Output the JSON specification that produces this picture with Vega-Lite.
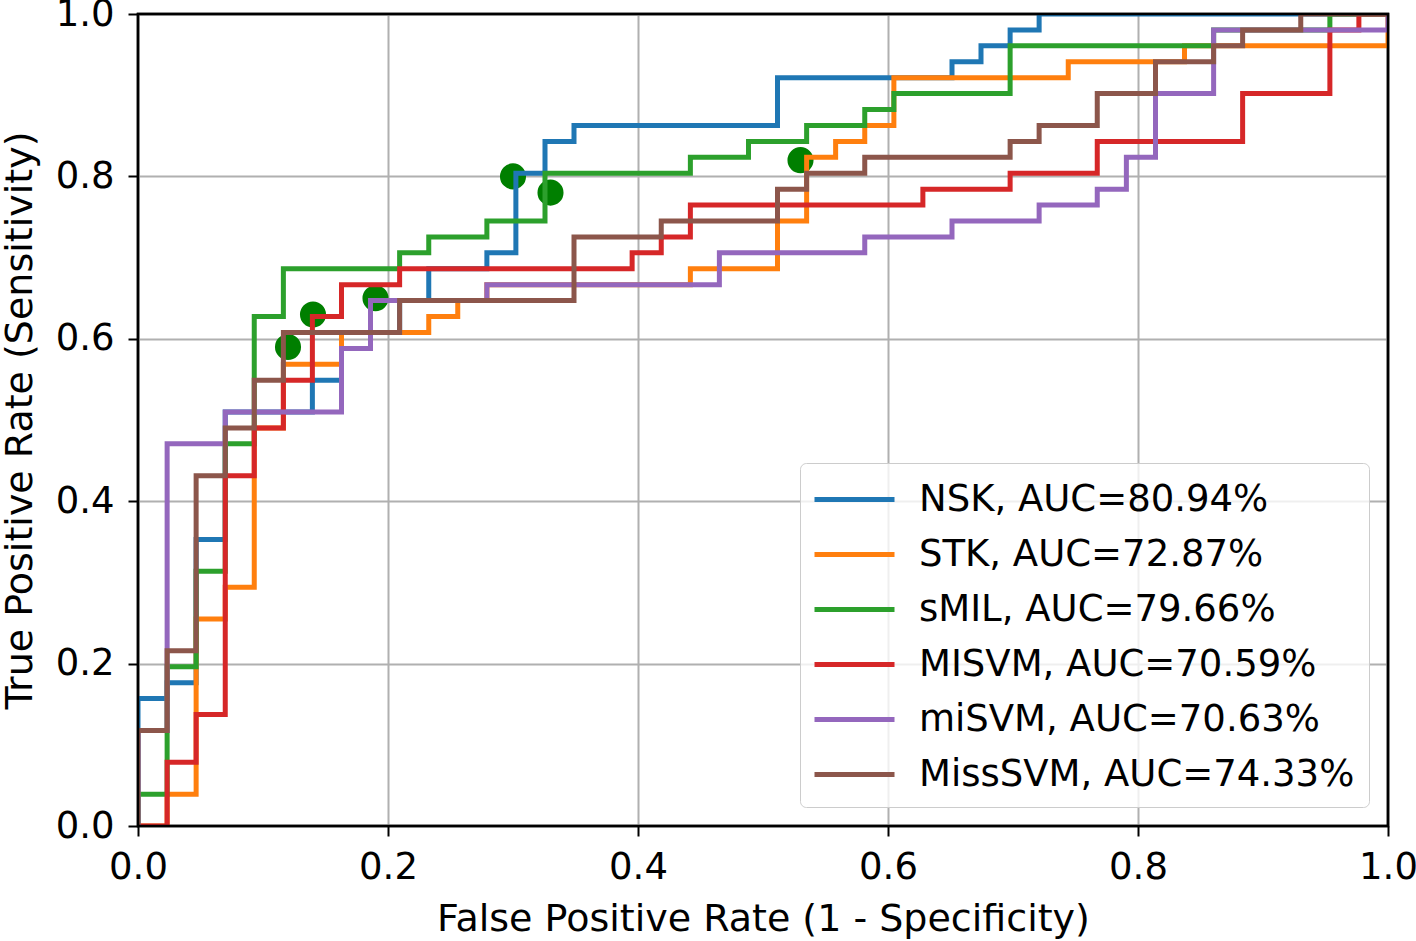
{
  "$schema": "https://vega.github.io/schema/vega-lite/v6.json",
  "width": 1250,
  "height": 812,
  "autosize": {"type": "none"},
  "padding": {"left": 138, "top": 14, "right": 28, "bottom": 115},
  "background": "white",
  "config": {
    "font": "DejaVu Sans",
    "view": {"stroke": "black", "strokeWidth": 2.5},
    "axis": {
      "labelFontSize": 37, "titleFontSize": 38, "labelColor": "black", "titleColor": "black",
      "titleFontWeight": "normal", "tickColor": "black", "tickWidth": 2, "tickSize": 10,
      "gridColor": "#b0b0b0", "gridWidth": 2, "gridOpacity": 1, "domain": false,
      "labelFlush": false, "labelOverlap": false, "labelFont": "DejaVu Sans", "titleFont": "DejaVu Sans"
    },
    "axisX": {"labelPadding": 13, "titlePadding": 15},
    "axisY": {"labelPadding": 14, "titlePadding": 16},
    "legend": {
      "orient": "bottom-right", "offset": 19, "labelFontSize": 37, "labelColor": "black",
      "labelFont": "DejaVu Sans", "symbolType": "M-1.1,0L2.9,0", "symbolSize": 1600,
      "symbolStrokeWidth": 5, "rowPadding": 14, "padding": 14, "strokeColor": "#cccccc",
      "cornerRadius": 6, "fillColor": "rgba(255,255,255,0.8)", "labelOffset": 60, "labelLimit": 1000
    }
  },
  "datasets": {
    "roc": [
      {"model": "NSK, AUC=80.94%", "step": 0, "fpr": 0, "tpr": 0},
      {"model": "NSK, AUC=80.94%", "step": 1, "fpr": 0, "tpr": 0.1569},
      {"model": "NSK, AUC=80.94%", "step": 2, "fpr": 0.0233, "tpr": 0.1765},
      {"model": "NSK, AUC=80.94%", "step": 3, "fpr": 0.0465, "tpr": 0.3529},
      {"model": "NSK, AUC=80.94%", "step": 4, "fpr": 0.0698, "tpr": 0.5098},
      {"model": "NSK, AUC=80.94%", "step": 5, "fpr": 0.1395, "tpr": 0.549},
      {"model": "NSK, AUC=80.94%", "step": 6, "fpr": 0.1628, "tpr": 0.6078},
      {"model": "NSK, AUC=80.94%", "step": 7, "fpr": 0.2093, "tpr": 0.6471},
      {"model": "NSK, AUC=80.94%", "step": 8, "fpr": 0.2326, "tpr": 0.6863},
      {"model": "NSK, AUC=80.94%", "step": 9, "fpr": 0.2791, "tpr": 0.7059},
      {"model": "NSK, AUC=80.94%", "step": 10, "fpr": 0.3023, "tpr": 0.8039},
      {"model": "NSK, AUC=80.94%", "step": 11, "fpr": 0.3256, "tpr": 0.8431},
      {"model": "NSK, AUC=80.94%", "step": 12, "fpr": 0.3488, "tpr": 0.8627},
      {"model": "NSK, AUC=80.94%", "step": 13, "fpr": 0.5116, "tpr": 0.9216},
      {"model": "NSK, AUC=80.94%", "step": 14, "fpr": 0.6512, "tpr": 0.9412},
      {"model": "NSK, AUC=80.94%", "step": 15, "fpr": 0.6744, "tpr": 0.9608},
      {"model": "NSK, AUC=80.94%", "step": 16, "fpr": 0.6977, "tpr": 0.9804},
      {"model": "NSK, AUC=80.94%", "step": 17, "fpr": 0.7209, "tpr": 1},
      {"model": "NSK, AUC=80.94%", "step": 18, "fpr": 1, "tpr": 1},

      {"model": "STK, AUC=72.87%", "step": 0, "fpr": 0, "tpr": 0},
      {"model": "STK, AUC=72.87%", "step": 1, "fpr": 0.0233, "tpr": 0.0392},
      {"model": "STK, AUC=72.87%", "step": 2, "fpr": 0.0465, "tpr": 0.2549},
      {"model": "STK, AUC=72.87%", "step": 3, "fpr": 0.0698, "tpr": 0.2941},
      {"model": "STK, AUC=72.87%", "step": 4, "fpr": 0.093, "tpr": 0.4902},
      {"model": "STK, AUC=72.87%", "step": 5, "fpr": 0.1163, "tpr": 0.5686},
      {"model": "STK, AUC=72.87%", "step": 6, "fpr": 0.1628, "tpr": 0.6078},
      {"model": "STK, AUC=72.87%", "step": 7, "fpr": 0.2326, "tpr": 0.6275},
      {"model": "STK, AUC=72.87%", "step": 8, "fpr": 0.2558, "tpr": 0.6471},
      {"model": "STK, AUC=72.87%", "step": 9, "fpr": 0.2791, "tpr": 0.6667},
      {"model": "STK, AUC=72.87%", "step": 10, "fpr": 0.4419, "tpr": 0.6863},
      {"model": "STK, AUC=72.87%", "step": 11, "fpr": 0.5116, "tpr": 0.7451},
      {"model": "STK, AUC=72.87%", "step": 12, "fpr": 0.5349, "tpr": 0.8235},
      {"model": "STK, AUC=72.87%", "step": 13, "fpr": 0.5581, "tpr": 0.8431},
      {"model": "STK, AUC=72.87%", "step": 14, "fpr": 0.5814, "tpr": 0.8627},
      {"model": "STK, AUC=72.87%", "step": 15, "fpr": 0.6047, "tpr": 0.9216},
      {"model": "STK, AUC=72.87%", "step": 16, "fpr": 0.7442, "tpr": 0.9412},
      {"model": "STK, AUC=72.87%", "step": 17, "fpr": 0.8372, "tpr": 0.9608},
      {"model": "STK, AUC=72.87%", "step": 18, "fpr": 1, "tpr": 1},

      {"model": "sMIL, AUC=79.66%", "step": 0, "fpr": 0, "tpr": 0},
      {"model": "sMIL, AUC=79.66%", "step": 1, "fpr": 0, "tpr": 0.0392},
      {"model": "sMIL, AUC=79.66%", "step": 2, "fpr": 0.0233, "tpr": 0.1961},
      {"model": "sMIL, AUC=79.66%", "step": 3, "fpr": 0.0465, "tpr": 0.3137},
      {"model": "sMIL, AUC=79.66%", "step": 4, "fpr": 0.0698, "tpr": 0.4706},
      {"model": "sMIL, AUC=79.66%", "step": 5, "fpr": 0.093, "tpr": 0.6275},
      {"model": "sMIL, AUC=79.66%", "step": 6, "fpr": 0.1163, "tpr": 0.6863},
      {"model": "sMIL, AUC=79.66%", "step": 7, "fpr": 0.2093, "tpr": 0.7059},
      {"model": "sMIL, AUC=79.66%", "step": 8, "fpr": 0.2326, "tpr": 0.7255},
      {"model": "sMIL, AUC=79.66%", "step": 9, "fpr": 0.2791, "tpr": 0.7451},
      {"model": "sMIL, AUC=79.66%", "step": 10, "fpr": 0.3256, "tpr": 0.8039},
      {"model": "sMIL, AUC=79.66%", "step": 11, "fpr": 0.4419, "tpr": 0.8235},
      {"model": "sMIL, AUC=79.66%", "step": 12, "fpr": 0.4884, "tpr": 0.8431},
      {"model": "sMIL, AUC=79.66%", "step": 13, "fpr": 0.5349, "tpr": 0.8627},
      {"model": "sMIL, AUC=79.66%", "step": 14, "fpr": 0.5814, "tpr": 0.8824},
      {"model": "sMIL, AUC=79.66%", "step": 15, "fpr": 0.6047, "tpr": 0.902},
      {"model": "sMIL, AUC=79.66%", "step": 16, "fpr": 0.6977, "tpr": 0.9608},
      {"model": "sMIL, AUC=79.66%", "step": 17, "fpr": 0.8605, "tpr": 0.9804},
      {"model": "sMIL, AUC=79.66%", "step": 18, "fpr": 0.9535, "tpr": 1},
      {"model": "sMIL, AUC=79.66%", "step": 19, "fpr": 1, "tpr": 1},

      {"model": "MISVM, AUC=70.59%", "step": 0, "fpr": 0, "tpr": 0},
      {"model": "MISVM, AUC=70.59%", "step": 1, "fpr": 0.0233, "tpr": 0.0784},
      {"model": "MISVM, AUC=70.59%", "step": 2, "fpr": 0.0465, "tpr": 0.1373},
      {"model": "MISVM, AUC=70.59%", "step": 3, "fpr": 0.0698, "tpr": 0.4314},
      {"model": "MISVM, AUC=70.59%", "step": 4, "fpr": 0.093, "tpr": 0.4902},
      {"model": "MISVM, AUC=70.59%", "step": 5, "fpr": 0.1163, "tpr": 0.549},
      {"model": "MISVM, AUC=70.59%", "step": 6, "fpr": 0.1395, "tpr": 0.6275},
      {"model": "MISVM, AUC=70.59%", "step": 7, "fpr": 0.1628, "tpr": 0.6667},
      {"model": "MISVM, AUC=70.59%", "step": 8, "fpr": 0.2093, "tpr": 0.6863},
      {"model": "MISVM, AUC=70.59%", "step": 9, "fpr": 0.3953, "tpr": 0.7059},
      {"model": "MISVM, AUC=70.59%", "step": 10, "fpr": 0.4186, "tpr": 0.7255},
      {"model": "MISVM, AUC=70.59%", "step": 11, "fpr": 0.4419, "tpr": 0.7647},
      {"model": "MISVM, AUC=70.59%", "step": 12, "fpr": 0.6279, "tpr": 0.7843},
      {"model": "MISVM, AUC=70.59%", "step": 13, "fpr": 0.6977, "tpr": 0.8039},
      {"model": "MISVM, AUC=70.59%", "step": 14, "fpr": 0.7674, "tpr": 0.8431},
      {"model": "MISVM, AUC=70.59%", "step": 15, "fpr": 0.8837, "tpr": 0.902},
      {"model": "MISVM, AUC=70.59%", "step": 16, "fpr": 0.9535, "tpr": 0.9804},
      {"model": "MISVM, AUC=70.59%", "step": 17, "fpr": 0.9767, "tpr": 1},
      {"model": "MISVM, AUC=70.59%", "step": 18, "fpr": 1, "tpr": 1},

      {"model": "miSVM, AUC=70.63%", "step": 0, "fpr": 0, "tpr": 0},
      {"model": "miSVM, AUC=70.63%", "step": 1, "fpr": 0, "tpr": 0.1176},
      {"model": "miSVM, AUC=70.63%", "step": 2, "fpr": 0.0233, "tpr": 0.4706},
      {"model": "miSVM, AUC=70.63%", "step": 3, "fpr": 0.0698, "tpr": 0.5098},
      {"model": "miSVM, AUC=70.63%", "step": 4, "fpr": 0.1628, "tpr": 0.5882},
      {"model": "miSVM, AUC=70.63%", "step": 5, "fpr": 0.186, "tpr": 0.6471},
      {"model": "miSVM, AUC=70.63%", "step": 6, "fpr": 0.2791, "tpr": 0.6667},
      {"model": "miSVM, AUC=70.63%", "step": 7, "fpr": 0.4651, "tpr": 0.7059},
      {"model": "miSVM, AUC=70.63%", "step": 8, "fpr": 0.5814, "tpr": 0.7255},
      {"model": "miSVM, AUC=70.63%", "step": 9, "fpr": 0.6512, "tpr": 0.7451},
      {"model": "miSVM, AUC=70.63%", "step": 10, "fpr": 0.7209, "tpr": 0.7647},
      {"model": "miSVM, AUC=70.63%", "step": 11, "fpr": 0.7674, "tpr": 0.7843},
      {"model": "miSVM, AUC=70.63%", "step": 12, "fpr": 0.7907, "tpr": 0.8235},
      {"model": "miSVM, AUC=70.63%", "step": 13, "fpr": 0.814, "tpr": 0.902},
      {"model": "miSVM, AUC=70.63%", "step": 14, "fpr": 0.8605, "tpr": 0.9804},
      {"model": "miSVM, AUC=70.63%", "step": 15, "fpr": 1, "tpr": 1},

      {"model": "MissSVM, AUC=74.33%", "step": 0, "fpr": 0, "tpr": 0},
      {"model": "MissSVM, AUC=74.33%", "step": 1, "fpr": 0, "tpr": 0.1176},
      {"model": "MissSVM, AUC=74.33%", "step": 2, "fpr": 0.0233, "tpr": 0.2157},
      {"model": "MissSVM, AUC=74.33%", "step": 3, "fpr": 0.0465, "tpr": 0.4314},
      {"model": "MissSVM, AUC=74.33%", "step": 4, "fpr": 0.0698, "tpr": 0.4902},
      {"model": "MissSVM, AUC=74.33%", "step": 5, "fpr": 0.093, "tpr": 0.549},
      {"model": "MissSVM, AUC=74.33%", "step": 6, "fpr": 0.1163, "tpr": 0.6078},
      {"model": "MissSVM, AUC=74.33%", "step": 7, "fpr": 0.2093, "tpr": 0.6471},
      {"model": "MissSVM, AUC=74.33%", "step": 8, "fpr": 0.3488, "tpr": 0.7255},
      {"model": "MissSVM, AUC=74.33%", "step": 9, "fpr": 0.4186, "tpr": 0.7451},
      {"model": "MissSVM, AUC=74.33%", "step": 10, "fpr": 0.5116, "tpr": 0.7843},
      {"model": "MissSVM, AUC=74.33%", "step": 11, "fpr": 0.5349, "tpr": 0.8039},
      {"model": "MissSVM, AUC=74.33%", "step": 12, "fpr": 0.5814, "tpr": 0.8235},
      {"model": "MissSVM, AUC=74.33%", "step": 13, "fpr": 0.6977, "tpr": 0.8431},
      {"model": "MissSVM, AUC=74.33%", "step": 14, "fpr": 0.7209, "tpr": 0.8627},
      {"model": "MissSVM, AUC=74.33%", "step": 15, "fpr": 0.7674, "tpr": 0.902},
      {"model": "MissSVM, AUC=74.33%", "step": 16, "fpr": 0.814, "tpr": 0.9412},
      {"model": "MissSVM, AUC=74.33%", "step": 17, "fpr": 0.8605, "tpr": 0.9608},
      {"model": "MissSVM, AUC=74.33%", "step": 18, "fpr": 0.8837, "tpr": 0.9804},
      {"model": "MissSVM, AUC=74.33%", "step": 19, "fpr": 0.9302, "tpr": 1},
      {"model": "MissSVM, AUC=74.33%", "step": 20, "fpr": 1, "tpr": 1}
    ],
    "pts": [
      {"fpr": 0.12, "tpr": 0.59},
      {"fpr": 0.14, "tpr": 0.63},
      {"fpr": 0.19, "tpr": 0.65},
      {"fpr": 0.30, "tpr": 0.80},
      {"fpr": 0.33, "tpr": 0.78},
      {"fpr": 0.53, "tpr": 0.82}
    ]
  },
  "encoding": {
    "x": {
      "field": "fpr", "type": "quantitative",
      "scale": {"domain": [0, 1], "nice": false, "zero": false},
      "axis": {"title": "False Positive Rate (1 - Specificity)", "values": [0, 0.2, 0.4, 0.6, 0.8, 1], "format": ".1f"}
    },
    "y": {
      "field": "tpr", "type": "quantitative",
      "scale": {"domain": [0, 1], "nice": false, "zero": false},
      "axis": {"title": "True Positive Rate (Sensitivity)", "values": [0, 0.2, 0.4, 0.6, 0.8, 1], "format": ".1f"}
    }
  },
  "layer": [
    {
      "data": {"name": "pts"},
      "mark": {"type": "circle", "size": 680, "color": "#007f00", "opacity": 1}
    },
    {
      "data": {"name": "roc"},
      "encoding": {
        "color": {
          "field": "model", "type": "nominal", "title": null,
          "scale": {
            "domain": ["NSK, AUC=80.94%", "STK, AUC=72.87%", "sMIL, AUC=79.66%", "MISVM, AUC=70.59%", "miSVM, AUC=70.63%", "MissSVM, AUC=74.33%"],
            "range": ["#1f77b4", "#ff7f0e", "#2ca02c", "#d62728", "#9467bd", "#8c564b"]
          }
        },
        "order": {"field": "step", "type": "quantitative"}
      },
      "layer": [
        {"transform": [{"filter": "datum.model === 'NSK, AUC=80.94%'"}], "mark": {"type": "line", "interpolate": "step-after", "strokeWidth": 5, "clip": true}},
        {"transform": [{"filter": "datum.model === 'STK, AUC=72.87%'"}], "mark": {"type": "line", "interpolate": "step-after", "strokeWidth": 5, "clip": true}},
        {"transform": [{"filter": "datum.model === 'sMIL, AUC=79.66%'"}], "mark": {"type": "line", "interpolate": "step-after", "strokeWidth": 5, "clip": true}},
        {"transform": [{"filter": "datum.model === 'MISVM, AUC=70.59%'"}], "mark": {"type": "line", "interpolate": "step-after", "strokeWidth": 5, "clip": true}},
        {"transform": [{"filter": "datum.model === 'miSVM, AUC=70.63%'"}], "mark": {"type": "line", "interpolate": "step-after", "strokeWidth": 5, "clip": true}},
        {"transform": [{"filter": "datum.model === 'MissSVM, AUC=74.33%'"}], "mark": {"type": "line", "interpolate": "step-after", "strokeWidth": 5, "clip": true}}
      ]
    },
    {
      "data": {"values": [{"x0": 0, "x1": 1, "y0": 0, "y1": 1}]},
      "mark": {"type": "rect", "fill": "transparent", "stroke": "black", "strokeWidth": 2.5},
      "encoding": {
        "x": {"field": "x0", "type": "quantitative", "axis": {"title": "False Positive Rate (1 - Specificity)", "values": [0, 0.2, 0.4, 0.6, 0.8, 1], "format": ".1f"}},
        "x2": {"field": "x1"},
        "y": {"field": "y0", "type": "quantitative", "axis": {"title": "True Positive Rate (Sensitivity)", "values": [0, 0.2, 0.4, 0.6, 0.8, 1], "format": ".1f"}},
        "y2": {"field": "y1"}
      }
    }
  ]
}
